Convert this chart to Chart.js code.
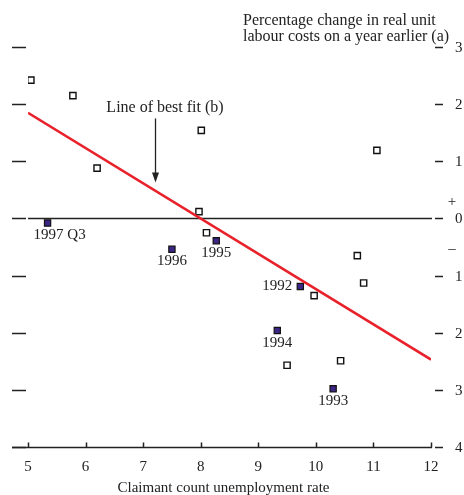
<!DOCTYPE html>
<html>
<head>
<meta charset="utf-8">
<script src="https://cdn.jsdelivr.net/npm/chart.js@4"></script>
<style>
  html, body { margin: 0; padding: 0; background: #fff; }
  canvas { display: block; }
</style>
</head>
<body>
<canvas id="myChart" width="464" height="495"></canvas>
<script>
// Open squares: other quarters
const otherX = [5.05, 5.78, 6.2, 8.01, 7.97, 8.1, 11.06, 10.72, 10.83, 9.97, 10.43, 9.5];
const otherY = [2.42, 2.15, 0.88, 1.54, 0.12, -0.25, 1.19, -0.65, -1.13, -1.35, -2.49, -2.57];

// Filled squares: labelled years
const yearLabels = ["1997 Q3", "1996", "1995", "1992", "1994", "1993"];
const yearX = [5.34, 7.5, 8.27, 9.73, 9.33, 10.3];
const yearY = [-0.08, -0.54, -0.39, -1.19, -1.96, -2.98];

// Line of best fit (b)
const fitX = [5, 12];
const fitY = [1.85, -2.47];

const xTicks = [5, 6, 7, 8, 9, 10, 11, 12];
const yTicks = [3, 2, 1, 0, -1, -2, -3, -4];
const yTickLabels = ["3", "2", "1", "0", "1", "2", "3", "4"];

const titleLines = ["Percentage change in real unit", "labour costs on a year earlier (a)"];
const xTitle = "Claimant count unemployment rate";
const fitNote = { text: "Line of best fit (b)", x: 7.38, y: 1.94, arrowX: 7.21, arrowTop: 1.75, arrowBottom: 0.63 };

const SERIF = "'Liberation Serif', 'Times New Roman', serif";
const INK = "#222";

// where each year label sits relative to its square
const labelPlace = {
  "1997 Q3": { dx: -14, dy: 12, align: "left" },
  "1996": { dx: 0, dy: 12, align: "center" },
  "1995": { dx: 0, dy: 12, align: "center" },
  "1992": { dx: -8, dy: 0, align: "right" },
  "1994": { dx: 0, dy: 13, align: "center" },
  "1993": { dx: 0, dy: 12, align: "center" },
};

const decor = {
  id: "decor",
  beforeDatasetsDraw(chart) {
    const { ctx, chartArea: a, scales: { y } } = chart;
    ctx.save();
    ctx.strokeStyle = INK;
    ctx.lineWidth = 1.5;
    // zero line
    const y0 = Math.round(y.getPixelForValue(0)) + 0.5;
    ctx.beginPath();
    ctx.moveTo(a.left, y0);
    ctx.lineTo(a.right + 1, y0);
    ctx.stroke();
    ctx.restore();
  },
  afterDatasetsDraw(chart) {
    const { ctx, chartArea: a, scales: { x, y } } = chart;
    ctx.save();
    ctx.strokeStyle = INK;
    ctx.fillStyle = INK;
    ctx.lineWidth = 1.5;
    ctx.font = "15px " + SERIF;

    // y ticks both sides
    yTicks.forEach((v, i) => {
      const py = Math.round(y.getPixelForValue(v)) + 0.5;
      ctx.beginPath();
      ctx.moveTo(a.left - 16, py);
      ctx.lineTo(a.left - 2, py);
      ctx.moveTo(a.right + 4, py);
      ctx.lineTo(a.right + 12, py);
      ctx.stroke();
      ctx.textAlign = "left";
      ctx.textBaseline = "middle";
      ctx.fillText(yTickLabels[i], a.right + 24, py + 1);
    });
    // + / – signs
    const ys = y.getPixelForValue(0);
    ctx.textAlign = "center";
    ctx.fillText("+", a.right + 21, ys - 16);
    ctx.fillText("\u2013", a.right + 21, ys + 31);

    // bottom axis
    const yb = Math.round(a.bottom) + 0.5;
    ctx.beginPath();
    ctx.moveTo(a.left - 16, yb);
    ctx.lineTo(a.right + 1, yb);
    xTicks.forEach(v => {
      const px = Math.round(x.getPixelForValue(v)) + 0.5;
      ctx.moveTo(px, yb);
      ctx.lineTo(px, yb - 5);
    });
    ctx.stroke();
    ctx.textAlign = "center";
    ctx.textBaseline = "middle";
    xTicks.forEach(v => {
      ctx.fillText(String(v), x.getPixelForValue(v), yb + 20);
    });
    ctx.fillText(xTitle, (a.left + a.right) / 2 - 6, yb + 41);

    // title
    ctx.font = "16px " + SERIF;
    ctx.textAlign = "left";
    titleLines.forEach((t, i) => ctx.fillText(t, 243, 21 + i * 16));

    // fit note and arrow
    ctx.textAlign = "center";
    ctx.fillText(fitNote.text, x.getPixelForValue(fitNote.x), y.getPixelForValue(fitNote.y));
    const ax = Math.round(x.getPixelForValue(fitNote.arrowX)) + 0.5;
    const at = y.getPixelForValue(fitNote.arrowTop);
    const ab = y.getPixelForValue(fitNote.arrowBottom);
    ctx.lineWidth = 1.3;
    ctx.beginPath();
    ctx.moveTo(ax, at);
    ctx.lineTo(ax, ab - 6);
    ctx.stroke();
    ctx.beginPath();
    ctx.moveTo(ax, ab);
    ctx.lineTo(ax - 3.5, ab - 10);
    ctx.lineTo(ax + 3.5, ab - 10);
    ctx.closePath();
    ctx.fill();

    // year labels
    ctx.font = "15px " + SERIF;
    ctx.textBaseline = "middle";
    yearLabels.forEach((t, i) => {
      const p = labelPlace[t];
      ctx.textAlign = p.align;
      ctx.fillText(t, x.getPixelForValue(yearX[i]) + p.dx, y.getPixelForValue(yearY[i]) + p.dy);
    });
    ctx.restore();
  }
};

const ctx = document.getElementById("myChart").getContext("2d");
const myChart = new Chart(ctx, {
  type: "scatter",
  data: {
    datasets: [
      {
        label: "Line of best fit",
        type: "line",
        data: fitX.map((v, i) => ({ x: v, y: fitY[i] })),
        borderColor: "#e8212b",
        borderWidth: 2.5,
        pointRadius: 0,
        fill: false,
        order: 1,
      },
      {
        label: "Other quarters",
        data: otherX.map((v, i) => ({ x: v, y: otherY[i] })),
        pointStyle: "rect",
        pointRadius: 4.4,
        backgroundColor: "#ffffff",
        borderColor: "#111",
        borderWidth: 1.4,
        order: 2,
      },
      {
        label: "Years",
        data: yearX.map((v, i) => ({ x: v, y: yearY[i] })),
        pointStyle: "rect",
        pointRadius: 4.4,
        backgroundColor: "#3b2585",
        borderColor: "#111",
        borderWidth: 1.2,
        order: 3,
      },
    ],
  },
  options: {
    responsive: false,
    animation: false,
    layout: { autoPadding: false, padding: { left: 28, right: 33, top: 47, bottom: 48 } },
    plugins: { legend: { display: false }, tooltip: { enabled: false } },
    scales: {
      x: { type: "linear", min: 5, max: 12, display: false },
      y: { type: "linear", min: -4, max: 3, display: false },
    },
  },
  plugins: [decor],
});
</script>
</body>
</html>
